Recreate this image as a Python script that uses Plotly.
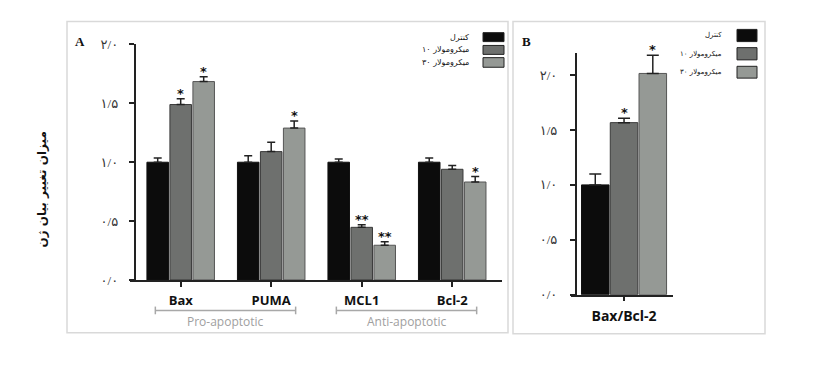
import plotly.graph_objects as go

W, H = 825, 386

# ---------------- data ----------------
categories = ["Bax", "PUMA", "MCL1", "Bcl-2"]
series_names = ["کنترل", "۱۰ میکرومولار", "۳۰ میکرومولار"]
control_vals = [1.0, 1.0, 1.0, 1.0]
control_err = [0.035, 0.055, 0.027, 0.035]
c10_vals = [1.49, 1.09, 0.447, 0.94]
c10_err = [0.05, 0.08, 0.022, 0.033]
c30_vals = [1.685, 1.29, 0.295, 0.832]
c30_err = [0.041, 0.06, 0.03, 0.046]
control_sig = ["", "", "", ""]
c10_sig = ["*", "", "**", ""]
c30_sig = ["*", "*", "**", "*"]

ratio_category = ["Bax/Bcl-2"]
ratio_vals = [1.0, 1.567, 2.015]
ratio_err = [0.10, 0.04, 0.165]
ratio_sig = ["", "*", "*"]

tick_vals = [0, 0.5, 1.0, 1.5, 2.0]
tick_text = ["۰/۰", "۰/۵", "۱/۰", "۱/۵", "۲/۰"]
y_title = "میزان تغییر بیان ژن"
groups = [("Pro-apoptotic", 0, 1), ("Anti-apoptotic", 2, 3)]

# ---------------- styles ----------------
fills = ["#0c0c0c", "#6e706e", "#959995"]
outlines = ["#111111", "#3a3a3a", "#555555"]
AX = "#222222"

def px(x):
    return x / W

def py(y):
    return 1 - y / H

fig = go.Figure()
annotations = []

def star(xv, yv, s, xref, yref):
    annotations.append(dict(
        x=xv, y=yv, xref=xref, yref=yref, text="<b>" + s + "</b>",
        showarrow=False, xanchor="center", yanchor="bottom", yshift=-4,
        font=dict(size=13, color="#111111", family="DejaVu Sans")))

# Panel A
wA = 0.238
shiftA = [-0.254, 0.0, 0.254]
seriesA = [(control_vals, control_err, control_sig),
           (c10_vals, c10_err, c10_sig),
           (c30_vals, c30_err, c30_sig)]
for k, (vals, errs, sigs) in enumerate(seriesA):
    fig.add_trace(go.Bar(
        x=categories, y=vals, width=wA, offset=shiftA[k] - wA / 2,
        marker=dict(color=fills[k], line=dict(color=outlines[k], width=1)),
        error_y=dict(type="data", array=errs, arrayminus=[0] * len(errs),
                     symmetric=False, color=AX, thickness=1.5, width=4),
        xaxis="x", yaxis="y", showlegend=False, name=series_names[k]))
    for i, s in enumerate(sigs):
        if s:
            star(i + shiftA[k], vals[i] + errs[i], s, "x", "y")

# Panel B
wB = 0.27
shiftB = [-0.282, 0.0, 0.282]
for k in range(3):
    fig.add_trace(go.Bar(
        x=ratio_category, y=[ratio_vals[k]], width=wB, offset=shiftB[k] - wB / 2,
        marker=dict(color=fills[k], line=dict(color=outlines[k], width=1)),
        error_y=dict(type="data", array=[ratio_err[k]], arrayminus=[0],
                     symmetric=False, color=AX, thickness=1.5, width=6),
        xaxis="x2", yaxis="y2", showlegend=False, name=series_names[k]))
    if ratio_sig[k]:
        star(shiftB[k], ratio_vals[k] + ratio_err[k], ratio_sig[k], "x2", "y2")

tickfont = dict(family="Liberation Serif, DejaVu Sans", size=13, color="#333")
catfont = dict(family="Open Sans, Liberation Sans", size=13, color="#111", weight="bold")

fig.update_layout(
    width=W, height=H, margin=dict(l=0, r=0, t=0, b=0),
    paper_bgcolor="white", plot_bgcolor="rgba(0,0,0,0)",
    barmode="overlay",
    xaxis=dict(domain=[px(130), px(502)], range=[-0.56, 3.55], type="category",
               showline=True, linecolor=AX, linewidth=1.5, ticks="outside",
               ticklen=5, tickcolor=AX, tickwidth=1.5, tickfont=catfont,
               ticklabelstandoff=3,
               showgrid=False, zeroline=False, anchor="y"),
    yaxis=dict(domain=[py(284), py(39)], range=[0, 2.0], anchor="free",
               position=px(134.5), showline=True, linecolor=AX, linewidth=1.5,
               ticks="outside", ticklen=5, tickcolor=AX, tickwidth=1.5,
               tickvals=tick_vals, ticktext=tick_text, tickfont=tickfont,
               ticklabelstandoff=8, showgrid=False, zeroline=False),
    xaxis2=dict(domain=[px(571), px(673)], range=[-0.52, 0.48], type="category",
                showline=True, linecolor=AX, linewidth=1.5, ticks="outside",
                ticklen=5, tickcolor=AX, tickwidth=1.5, ticklabelstandoff=3,
                tickfont=dict(family="Open Sans, Liberation Sans", size=14, color="#111", weight="bold"),
                showgrid=False, zeroline=False, anchor="y2"),
    yaxis2=dict(domain=[py(299.3), py(48)], range=[0, 2.2], anchor="free",
                position=px(575.7), showline=True, linecolor=AX, linewidth=1.5,
                ticks="outside", ticklen=5, tickcolor=AX, tickwidth=1.5,
                tickvals=tick_vals, ticktext=tick_text, tickfont=tickfont,
                ticklabelstandoff=10, showgrid=False, zeroline=False),
)

shapes = []
# panel borders
shapes.append(dict(type="rect", xref="paper", yref="paper", x0=px(67), x1=px(508),
                   y0=py(339), y1=py(15), line=dict(color="#d9d9d9", width=1.5)))
shapes.append(dict(type="rect", xref="paper", yref="paper", x0=px(513), x1=px(765),
                   y0=py(340), y1=py(15), line=dict(color="#d9d9d9", width=1.5)))

# group brackets
for label, a, b in groups:
    xa, xb = a - 0.28, b + 0.27
    yb = py(315.7)
    shapes.append(dict(type="line", xref="x", yref="paper", x0=xa, x1=xb, y0=yb, y1=yb,
                       line=dict(color="#a8a8a8", width=1.5)))
    for xe in (xa, xb):
        shapes.append(dict(type="line", xref="x", yref="paper", x0=xe, x1=xe,
                           y0=yb - 4 / H, y1=yb + 4 / H, line=dict(color="#a8a8a8", width=1.5)))
    annotations.append(dict(x=(xa + xb) / 2, y=py(327), xref="x", yref="paper",
                            text=label, showarrow=False, xanchor="center", yanchor="middle",
                            font=dict(family="Open Sans, Liberation Sans", size=12, color="#a0a0a0")))

# custom RTL legends
def legend(box_x0, box_x1, box_rows, text_right, fsize):
    for k, (y0, y1) in enumerate(box_rows):
        shapes.append(dict(type="rect", xref="paper", yref="paper", x0=px(box_x0), x1=px(box_x1),
                           y0=py(y1), y1=py(y0), fillcolor=fills[k],
                           line=dict(color="#222", width=1)))
        annotations.append(dict(x=px(text_right), y=py((y0 + y1) / 2), xref="paper", yref="paper",
                                text=series_names[k], showarrow=False, xanchor="right",
                                yanchor="middle",
                                font=dict(family="DejaVu Serif, DejaVu Sans", size=fsize, color="#111")))

legend(483, 504, [(26.7, 36), (40, 49.3), (52.7, 62.7)], 471, 8)
legend(737, 757, [(23.3, 36), (42.3, 55), (61.7, 74)], 724, 7)

# panel letters
annotations.append(dict(x=px(80), y=py(36), xref="paper", yref="paper", text="<b>A</b>",
                        showarrow=False, xanchor="center", yanchor="middle",
                        font=dict(family="Liberation Serif", size=13, color="#111")))
annotations.append(dict(x=px(526), y=py(36), xref="paper", yref="paper", text="<b>B</b>",
                        showarrow=False, xanchor="center", yanchor="middle",
                        font=dict(family="Liberation Serif", size=13, color="#111")))

# y title
annotations.append(dict(x=px(42), y=py(190), xref="paper", yref="paper", text="<b>" + y_title + "</b>",
                        textangle=-90, showarrow=False, xanchor="center", yanchor="middle",
                        font=dict(family="DejaVu Sans", size=12, color="#111")))

fig.update_layout(shapes=shapes, annotations=annotations)
fig.write_html("out.html", config={"displayModeBar": False},
               post_script="document.body.style.margin='0px';document.body.style.padding='0px';")
